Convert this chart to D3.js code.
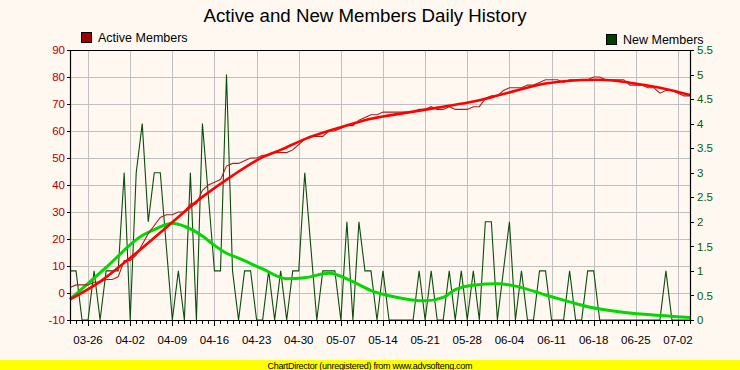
<!DOCTYPE html>
<html>
<head>
<meta charset="utf-8">
<script src="https://cdn.jsdelivr.net/npm/d3@7"></script>
<style>
  body { margin: 0; background: #fef8f0; }
</style>
</head>
<body>
<div id="chart"></div>
<script>
// first day of the daily series
var startDate = "2006-03-23";

// active members, one value per day
var activeMembers = [2,3,3,3,4,4,5,5,6,12,12,14,18,22,25,28,29,29,30,30,
    33,33,38,40,41,42,47,48,48,49,50,50,51,51,52,52,52,53,55,57,
    58,58,58,60,60,61,62,62,64,65,66,66,67,67,67,67,67,67,68,68,
    69,68,68,69,68,68,68,69,69,72,73,73,75,76,76,76,77,77,78,79,
    79,79,78,79,79,79,79,80,80,79,79,79,79,77,77,77,76,76,74,75,
    75,74,73,73];

// new members, one value per day
var newMembers = [1,1,0,0,1,0,1,1,1,3,0,3,4,2,3,3,1.5,0,1,0,
    3,0,4,2.5,1,1,5,1,0,1,1,0,0,1,0,1,0,1,1,3,
    1.5,0,1,1,1,0,2,0,2,1,1,0,1,0,0,0,0,0,1,0,
    1,0,0,1,0,1,0,1,0,2,2,0,1,2,0,1,0,0,1,1,
    0,0,0,1,0,0,1,1,0,0,0,0,0,0,0,0,0,0,0,1,
    0,0,0,0];

// trend lines (day offset, value)
var activeTrendDays = [0,5,10,16,22,27,32,35,39,45,50,56,62,67,72,79,85,88,93,98,103];
var activeTrend = [-2.4,4.2,13,24.3,35.6,43.5,50.3,53,57,61.4,64.5,66.8,69,70.9,73.7,77.6,78.9,79,77.9,76,73.3];

var newTrendDays = [0,6,12,14,17,19,22,24,26,28,32,36,39,43,47,50,54,59,62,64,67,71,74,79,83,86,90,96,103];
var newTrend = [0.42,1.07,1.72,1.84,1.97,1.91,1.71,1.52,1.36,1.26,1.04,0.84,0.86,0.95,0.78,0.60,0.47,0.39,0.46,0.62,0.71,0.74,0.69,0.51,0.37,0.27,0.19,0.11,0.05];

var leftTicks = [-10,0,10,20,30,40,50,60,70,80,90];
var rightTicks = [0,0.5,1,1.5,2,2.5,3,3.5,4,4.5,5,5.5];

var width = 740, height = 370;
var plotL = 70, plotR = 690, plotT = 50, plotB = 320;

var parse = d3.timeParse("%Y-%m-%d");
var day0 = parse(startDate);
var dayDate = i => d3.timeDay.offset(day0, i);

var svg = d3.select("#chart")
    .append("svg")
    .attr("width", width)
    .attr("height", height)
    .attr("font-family", "'Liberation Sans', Arial, sans-serif");

svg.append("rect")
    .attr("width", width)
    .attr("height", height)
    .attr("fill", "#fef8f0");

var x = d3.scaleTime()
    .domain([day0, dayDate(activeMembers.length - 1)])
    .range([plotL, plotR]);
var yL = d3.scaleLinear().domain([-10, 90]).range([plotB, plotT]);
var yR = d3.scaleLinear().domain([0, 5.5]).range([plotB, plotT]);

var weeks = d3.timeSunday.range(day0, dayDate(activeMembers.length));
var days = d3.timeDay.range(day0, dayDate(activeMembers.length));

// grid
var grid = svg.append("g").attr("stroke", "#c0c0c0").attr("stroke-width", 1);
grid.selectAll("line.h")
    .data(leftTicks.slice(1, -1))
    .enter().append("line")
    .attr("x1", plotL).attr("x2", plotR)
    .attr("y1", d => Math.round(yL(d)) + 0.5)
    .attr("y2", d => Math.round(yL(d)) + 0.5);
grid.selectAll("line.v")
    .data(weeks)
    .enter().append("line")
    .attr("x1", d => Math.round(x(d)) + 0.5)
    .attr("x2", d => Math.round(x(d)) + 0.5)
    .attr("y1", plotT).attr("y2", plotB);

// lines
var newLine = d3.line()
    .x((d, i) => x(dayDate(i)))
    .y(d => yR(d));
var activeLine = d3.line()
    .x((d, i) => x(dayDate(i)))
    .y(d => yL(d));

svg.append("path")
    .datum(newMembers)
    .attr("fill", "none")
    .attr("stroke", "#0b4d0b")
    .attr("stroke-width", 1.1)
    .attr("d", newLine);

svg.append("path")
    .datum(newTrend)
    .attr("fill", "none")
    .attr("stroke", "#00d800")
    .attr("stroke-width", 3)
    .attr("d", d3.line()
        .curve(d3.curveMonotoneX)
        .x((d, i) => x(dayDate(newTrendDays[i])))
        .y(d => yR(d)));

svg.append("path")
    .datum(activeMembers)
    .attr("fill", "none")
    .attr("stroke", "#a82020")
    .attr("stroke-width", 1.1)
    .attr("d", activeLine);

svg.append("path")
    .datum(activeTrend)
    .attr("fill", "none")
    .attr("stroke", "#ff0000")
    .attr("stroke-width", 2.6)
    .attr("d", d3.line()
        .curve(d3.curveMonotoneX)
        .x((d, i) => x(dayDate(activeTrendDays[i])))
        .y(d => yL(d)));

// frame lines
var frame = svg.append("g").attr("stroke", "#000").attr("stroke-width", 1.2);
frame.append("line").attr("x1", plotL).attr("x2", plotR + 1).attr("y1", plotT + 0.5).attr("y2", plotT + 0.5);
frame.append("line").attr("x1", plotL + 0.5).attr("x2", plotL + 0.5).attr("y1", plotT).attr("y2", plotB + 1);
frame.append("line").attr("x1", plotR + 0.5).attr("x2", plotR + 0.5).attr("y1", plotT).attr("y2", plotB + 1);
frame.append("line").attr("x1", plotL).attr("x2", plotR + 1).attr("y1", plotB + 0.5).attr("y2", plotB + 0.5);

// left axis
var gl = svg.append("g");
gl.selectAll("line")
    .data(leftTicks)
    .enter().append("line")
    .attr("stroke", "#000")
    .attr("x1", plotL - 3).attr("x2", plotL)
    .attr("y1", d => Math.round(yL(d)) + 0.5)
    .attr("y2", d => Math.round(yL(d)) + 0.5);
gl.selectAll("text")
    .data(leftTicks)
    .enter().append("text")
    .attr("x", plotL - 5)
    .attr("y", d => yL(d))
    .attr("dy", "0.36em")
    .attr("text-anchor", "end")
    .attr("font-size", 11.5)
    .attr("fill", "#b00000")
    .text(d => d);

// right axis
var gr = svg.append("g");
gr.selectAll("line")
    .data(rightTicks)
    .enter().append("line")
    .attr("stroke", "#000")
    .attr("x1", plotR).attr("x2", plotR + 4)
    .attr("y1", d => Math.round(yR(d)) + 0.5)
    .attr("y2", d => Math.round(yR(d)) + 0.5);
gr.selectAll("text")
    .data(rightTicks)
    .enter().append("text")
    .attr("x", plotR + 7)
    .attr("y", d => yR(d))
    .attr("dy", "0.36em")
    .attr("font-size", 11.5)
    .attr("fill", "#006400")
    .text(d => d);

// bottom axis
var fmt = d3.timeFormat("%m-%d");
var gb = svg.append("g");
gb.selectAll("line")
    .data(days)
    .enter().append("line")
    .attr("stroke", "#000")
    .attr("x1", d => Math.round(x(d)) + 0.5)
    .attr("x2", d => Math.round(x(d)) + 0.5)
    .attr("y1", plotB)
    .attr("y2", d => d.getDay() === 0 ? plotB + 6 : plotB + 4);
gb.selectAll("text")
    .data(weeks)
    .enter().append("text")
    .attr("x", d => x(d))
    .attr("y", 344)
    .attr("text-anchor", "middle")
    .attr("font-size", 11.5)
    .text(d => fmt(d));

// title
svg.append("text")
    .attr("x", 365)
    .attr("y", 22)
    .attr("text-anchor", "middle")
    .attr("font-size", 18.7)
    .text("Active and New Members Daily History");

// legends
svg.append("rect")
    .attr("x", 81.5).attr("y", 32.5).attr("width", 10).attr("height", 10)
    .attr("fill", "#a00000").attr("stroke", "#000");
svg.append("text")
    .attr("x", 98).attr("y", 42)
    .attr("font-size", 12.5)
    .text("Active Members");

svg.append("rect")
    .attr("x", 606.5).attr("y", 34.5).attr("width", 10).attr("height", 10)
    .attr("fill", "#004000").attr("stroke", "#000");
svg.append("text")
    .attr("x", 623).attr("y", 43.5)
    .attr("font-size", 12.5)
    .text("New Members");

// footer
svg.append("rect")
    .attr("x", 0).attr("y", 360).attr("width", width).attr("height", 10)
    .attr("fill", "#ffff00");
svg.append("text")
    .attr("x", 370).attr("y", 368.5)
    .attr("text-anchor", "middle")
    .attr("font-size", 9)
    .attr("textLength", 205)
    .text("ChartDirector (unregistered) from www.advsofteng.com");
</script>
</body>
</html>
